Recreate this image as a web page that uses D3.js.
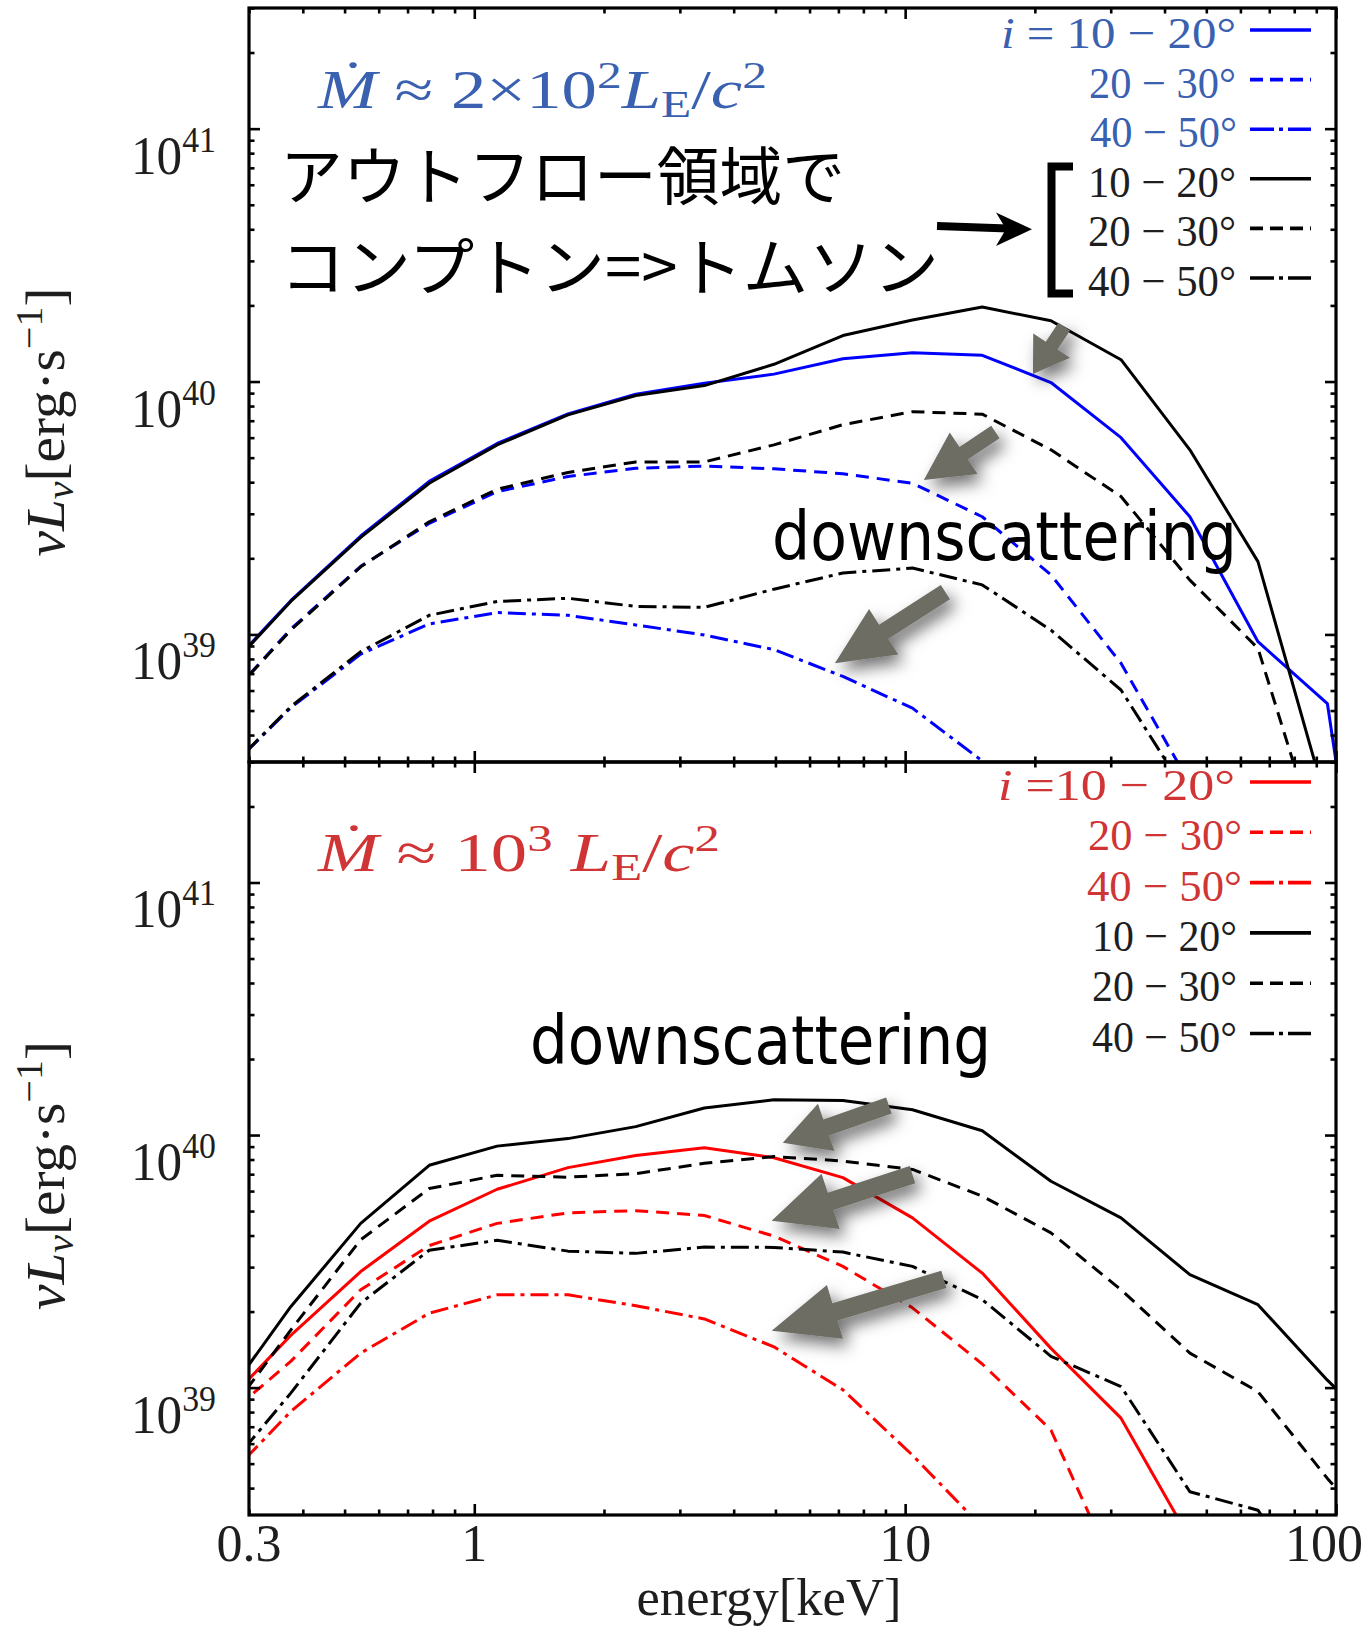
<!DOCTYPE html>
<html>
<head>
<meta charset="utf-8">
<script src="https://cdn.jsdelivr.net/npm/d3@7"></script>
<style>
  html, body { margin: 0; padding: 0; background: #fff; }
  svg { display: block; }
</style>
</head>
<body>
<svg id="chart" width="1362" height="1637"></svg>
<script>
// ---------------------------------------------------------------------------
// Spectral energy bins [keV]
const energies = [0.259, 0.375, 0.545, 0.786, 1.13, 1.65, 2.37, 3.42, 4.96, 7.17,
                  10.4, 15.1, 21.8, 31.7, 45.8, 65.9, 95.5, 138];

// νLν in units of 1e39 erg/s.  Upper panel: Mdot ~ 2x10^2 L_E/c^2
// Compton scattering in the outflow (coloured) and Thomson scattering (black)
const comptonA_10_20 = [0.692, 1.36, 2.45, 4.03, 5.69, 7.45, 8.91, 9.84, 10.7, 12.3, 13.0, 12.7, 9.91, 6.00, 2.92, 0.936, 0.533, 0.0079];
const comptonA_20_30 = [0.525, 1.05, 1.86, 2.75, 3.67, 4.21, 4.54, 4.63, 4.52, 4.32, 3.96, 2.92, 1.72, 0.769, 0.257];
const comptonA_40_50 = [0.275, 0.513, 0.836, 1.10, 1.22, 1.19, 1.09, 0.995, 0.871, 0.682, 0.511, 0.316, 0.195];
const thomsonA_10_20 = [0.684, 1.35, 2.42, 3.96, 5.62, 7.38, 8.81, 9.64, 11.7, 15.2, 17.5, 19.7, 17.4, 12.2, 5.37, 1.94, 0.209];
const thomsonA_20_30 = [0.525, 1.04, 1.85, 2.79, 3.75, 4.37, 4.81, 4.81, 5.62, 6.75, 7.60, 7.43, 5.37, 3.51, 1.64, 0.881, 0.115];
const thomsonA_40_50 = [0.275, 0.518, 0.855, 1.19, 1.35, 1.39, 1.29, 1.28, 1.51, 1.75, 1.83, 1.57, 1.04, 0.603, 0.224];

// Lower panel: Mdot ~ 10^3 L_E/c^2
const comptonB_10_20 = [0.832, 1.61, 2.88, 4.56, 6.10, 7.43, 8.30, 8.91, 8.13, 6.78, 4.70, 2.84, 1.43, 0.757, 0.251];
const comptonB_20_30 = [0.741, 1.27, 2.44, 3.65, 4.47, 4.92, 5.02, 4.80, 3.98, 3.02, 2.07, 1.24, 0.679, 0.166];
const comptonB_40_50 = [0.417, 0.804, 1.37, 1.97, 2.33, 2.33, 2.11, 1.87, 1.45, 0.98, 0.54, 0.28];
const thomsonB_10_20 = [0.871, 2.09, 4.47, 7.59, 9.04, 9.68, 10.8, 12.8, 13.8, 13.7, 12.6, 10.4, 6.56, 4.70, 2.80, 2.13, 1.07, 0.575];
const thomsonB_20_30 = [0.724, 1.69, 3.85, 6.14, 6.93, 6.81, 7.03, 7.73, 8.22, 7.89, 7.31, 5.73, 4.10, 2.44, 1.37, 0.964, 0.437, 0.214];
const thomsonB_40_50 = [0.447, 0.951, 2.16, 3.50, 3.83, 3.47, 3.40, 3.60, 3.59, 3.44, 3.02, 2.23, 1.33, 1.01, 0.387, 0.327, 0.126];

// Inclination ranges and axis ticks
const inclinationLabels = ["10 − 20°", "20 − 30°", "40 − 50°"];
const xTickValues = [0.3, 1, 10, 100];
const xTickLabels = ["0.3", "1", "10", "100"];
const yTickValues = [1e39, 1e40, 1e41];
const yTickExponents = ["39", "40", "41"];

// Annotation arrows (tail -> head) in data units: [keV, erg/s]
const arrowsA = [
  { from: [23.4, 1.65e40], to: [19.8, 1.07e40], shaft: 14, head: 44, headLen: 34 },
  { from: [16.2, 6.32e39], to: [11.05, 4.08e39], shaft: 15, head: 50, headLen: 48 },
  { from: [12.4, 1.47e39], to: [6.87, 7.7e38], shaft: 17, head: 54, headLen: 58 }
];
const arrowsB = [
  { from: [9.17, 1.31e40], to: [5.2, 9.33e39], shaft: 17, head: 50, headLen: 46 },
  { from: [10.4, 6.97e39], to: [4.9, 4.58e39], shaft: 18, head: 58, headLen: 62 },
  { from: [12.3, 2.68e39], to: [4.9, 1.68e39], shaft: 18, head: 56, headLen: 66 }
];

// ---------------------------------------------------------------------------
const W = 1362, H = 1637;
const left = 249, right = 1336;
const serif = "'Liberation Serif', 'DejaVu Serif', serif";
const blueText = "#3a60b0", redText = "#d03434", inkText = "#1e1e1e";
const dashes = { solid: null, dashed: "13,8", dashdot: "18,6,4,6" };
const legendDashes = { solid: null, dashed: "13,7", dashdot: "24,5,4,5" };

const svg = d3.select("#chart");
const defs = svg.append("defs");
const shadow = defs.append("filter").attr("id", "arrowShadow")
  .attr("x", "-60%").attr("y", "-60%").attr("width", "220%").attr("height", "220%");
shadow.append("feDropShadow").attr("dx", 6).attr("dy", 8).attr("stdDeviation", 8)
  .attr("flood-color", "#000").attr("flood-opacity", 0.55);

const x = d3.scaleLog().domain([0.3, 100]).range([left, right]);

// rich text built from tspans: parts {t, italic, shift(px up), scale}
function rich(parent, px, py, parts, opt) {
  const t = parent.append("text")
    .attr("x", px).attr("y", py)
    .attr("font-family", opt.family || serif)
    .attr("font-size", opt.size)
    .attr("fill", opt.fill || inkText)
    .attr("text-anchor", opt.anchor || "start");
  if (opt.transform) t.attr("transform", opt.transform);
  if (opt.width) t.attr("textLength", opt.width).attr("lengthAdjust", "spacingAndGlyphs");
  let shift = 0;
  parts.forEach(p => {
    const target = p.shift || 0;
    const s = t.append("tspan").text(p.t);
    if (target !== shift) s.attr("dy", shift - target);
    if (p.italic) s.attr("font-style", "italic");
    if (p.scale) s.attr("font-size", opt.size * p.scale);
    if (p.dx) s.attr("dx", p.dx);
    shift = target;
  });
  return t;
}

function logTicks(domain) {
  const [a, b] = domain, major = [], minor = [];
  for (let e = Math.floor(Math.log10(a)); e <= Math.ceil(Math.log10(b)); e++) {
    for (let m = 1; m < 10; m++) {
      const v = m * Math.pow(10, e);
      if (v < a * 0.999 || v > b * 1.001) continue;
      (m === 1 ? major : minor).push(v);
    }
  }
  return { major, minor };
}

function blockArrow(g, p0, p1, shaftW, headW, headL) {
  const [x0, y0] = p0, [x1, y1] = p1;
  const dx = x1 - x0, dy = y1 - y0, len = Math.hypot(dx, dy);
  const ux = dx / len, uy = dy / len, nx = -uy, ny = ux;
  const bx = x1 - ux * headL, by = y1 - uy * headL;
  const pts = [
    [x0 + nx * shaftW / 2, y0 + ny * shaftW / 2],
    [bx + nx * shaftW / 2, by + ny * shaftW / 2],
    [bx + nx * headW / 2, by + ny * headW / 2],
    [x1, y1],
    [bx - nx * headW / 2, by - ny * headW / 2],
    [bx - nx * shaftW / 2, by - ny * shaftW / 2],
    [x0 - nx * shaftW / 2, y0 - ny * shaftW / 2]
  ];
  g.append("polygon").attr("points", pts.map(p => p.join(",")).join(" "))
    .attr("fill", "#6d6d64").attr("filter", "url(#arrowShadow)");
}

const panels = [
  {
    id: "upper", top: 8, bottom: 762, color: "#0000ff", labelColor: blueText,
    series: [
      { values: comptonA_10_20, color: "#0000ff", style: "solid" },
      { values: comptonA_20_30, color: "#0000ff", style: "dashed" },
      { values: comptonA_40_50, color: "#0000ff", style: "dashdot" },
      { values: thomsonA_10_20, color: "#000", style: "solid" },
      { values: thomsonA_20_30, color: "#000", style: "dashed" },
      { values: thomsonA_40_50, color: "#000", style: "dashdot" }
    ],
    arrows: arrowsA,
    legendBase: 48, legendStep: 49.6,
    legendWidths: [235, 147, 147, 148, 148, 148],
    legendEnd: [1236, 1236, 1237, 1236, 1236, 1236],
    titleY: 108
  },
  {
    id: "lower", top: 762, bottom: 1515, color: "#ff0000", labelColor: redText,
    series: [
      { values: comptonB_10_20, color: "#ff0000", style: "solid" },
      { values: comptonB_20_30, color: "#ff0000", style: "dashed" },
      { values: comptonB_40_50, color: "#ff0000", style: "dashdot" },
      { values: thomsonB_10_20, color: "#000", style: "solid" },
      { values: thomsonB_20_30, color: "#000", style: "dashed" },
      { values: thomsonB_40_50, color: "#000", style: "dashdot" }
    ],
    arrows: arrowsB,
    legendBase: 800, legendStep: 50.3,
    legendWidths: [237, 154, 155, 145, 145, 145],
    legendEnd: [1235, 1242, 1242, 1237, 1237, 1237],
    titleY: 871
  }
];

panels.forEach((P, pi) => {
  const y = d3.scaleLog().domain([3.13e38, 3.0e41]).range([P.bottom, P.top]);
  const g = svg.append("g").attr("class", P.id);

  defs.append("clipPath").attr("id", "clip-" + P.id)
    .append("rect").attr("x", left).attr("y", P.top)
    .attr("width", right - left).attr("height", P.bottom - P.top);

  // spectra
  const line = d3.line()
    .x((d, i) => x(energies[i]))
    .y(d => y(d * 1e39));
  const curves = g.append("g").attr("clip-path", `url(#clip-${P.id})`);
  P.series.forEach(s => {
    curves.append("path").datum(s.values)
      .attr("d", line)
      .attr("fill", "none")
      .attr("stroke", s.color)
      .attr("stroke-width", 3)
      .attr("stroke-linejoin", "round")
      .attr("stroke-dasharray", dashes[s.style]);
  });

  // frame and ticks (inward on all four sides)
  const xt = logTicks(x.domain()), yt = logTicks(y.domain());
  const tickAxes = [
    [d3.axisBottom(x), `translate(0,${P.bottom})`, xt],
    [d3.axisTop(x), `translate(0,${P.top})`, xt],
    [d3.axisLeft(y), `translate(${left},0)`, yt],
    [d3.axisRight(y), `translate(${right},0)`, yt]
  ];
  tickAxes.forEach(([ax, tr, tk]) => {
    [[tk.major, 11], [tk.minor, 5.5]].forEach(([vals, len]) => {
      const a = g.append("g").attr("transform", tr)
        .call(ax.tickValues(vals).tickSize(-len).tickSizeOuter(0).tickFormat(""));
      a.select(".domain").remove();
      a.selectAll("line").attr("stroke", "#000").attr("stroke-width", 2.6);
    });
  });
  g.append("rect").attr("x", left).attr("y", P.top)
    .attr("width", right - left).attr("height", P.bottom - P.top)
    .attr("fill", "none").attr("stroke", "#000").attr("stroke-width", 3.2);

  // y tick labels 10^n
  yTickValues.forEach((v, i) => {
    rich(g, 216, y(v) + 45, [
      { t: "10" },
      { t: yTickExponents[i], shift: 22, scale: 0.66 }
    ], { size: 54, anchor: "end", width: 85, fill: inkText });
  });

  // y axis title
  const cy = (P.top + P.bottom) / 2 + 37;
  rich(g, 0, 0, [
    { t: "ν", italic: true },
    { t: "L", italic: true },
    { t: "ν", italic: true, shift: -9, scale: 0.7 },
    { t: "[erg·s", shift: 0 },
    { t: "−1", shift: 22, scale: 0.7 },
    { t: "]", shift: 0 }
  ], { size: 54, anchor: "middle", width: 269, transform: `translate(64,${cy}) rotate(-90)` });

  // legend
  const legendStyles = ["solid", "dashed", "dashdot"];
  for (let r = 0; r < 6; r++) {
    const base = P.legendBase + r * P.legendStep;
    const coloured = r < 3;
    const label = inclinationLabels[r % 3];
    const parts = (r === 0)
      ? [{ t: "i", italic: true }, { t: (pi === 0 ? " = " : " =") + label }]
      : [{ t: label }];
    rich(g, P.legendEnd[r], base, parts, {
      size: 45, anchor: "end", width: P.legendWidths[r],
      fill: coloured ? P.labelColor : inkText
    });
    g.append("line")
      .attr("x1", 1250).attr("x2", 1311)
      .attr("y1", base - 18).attr("y2", base - 18)
      .attr("stroke", coloured ? P.color : "#000")
      .attr("stroke-width", 3.6)
      .attr("stroke-dasharray", legendDashes[legendStyles[r % 3]]);
  }

  // grey "downscattering" arrows
  const arrowLayer = g.append("g");
  P.arrows.forEach(a => {
    blockArrow(arrowLayer,
      [x(a.from[0]), y(a.from[1])], [x(a.to[0]), y(a.to[1])],
      a.shaft, a.head, a.headLen);
  });
});

// accretion-rate titles
rich(svg, 318, panels[0].titleY, [
  { t: "Ṁ", italic: true },
  { t: " ≈ 2×10" },
  { t: "2", shift: 20, scale: 0.7 },
  { t: "L", italic: true, shift: 0 },
  { t: "E", shift: -9, scale: 0.7 },
  { t: "/", shift: 0 },
  { t: "c", italic: true },
  { t: "2", shift: 20, scale: 0.7 }
], { size: 54, width: 449, fill: blueText });

rich(svg, 318, panels[1].titleY, [
  { t: "Ṁ", italic: true },
  { t: " ≈ 10" },
  { t: "3", shift: 20, scale: 0.7 },
  { t: "  L", italic: true, shift: 0 },
  { t: "E", shift: -9, scale: 0.7 },
  { t: "/", shift: 0 },
  { t: "c", italic: true },
  { t: "2", shift: 20, scale: 0.7 }
], { size: 54, width: 402, fill: redText });

// Japanese annotation: Compton -> Thomson in the outflow region
const jp = "'Noto Sans CJK JP', 'Noto Sans CJK SC', sans-serif";
svg.append("text").attr("x", 280).attr("y", 199)
  .attr("font-family", jp).attr("font-size", 63).attr("fill", "#000")
  .attr("textLength", 565).attr("lengthAdjust", "spacingAndGlyphs")
  .text("アウトフロー領域で");
svg.append("text").attr("x", 280).attr("y", 290)
  .attr("font-family", jp).attr("font-size", 63).attr("fill", "#000")
  .attr("textLength", 659).attr("lengthAdjust", "spacingAndGlyphs")
  .text("コンプトン=>トムソン");

// black arrow and bracket pointing at the Thomson entries of the legend
svg.append("line").attr("x1", 937).attr("y1", 226).attr("x2", 1008).attr("y2", 228.6)
  .attr("stroke", "#000").attr("stroke-width", 8);
svg.append("polygon")
  .attr("points", "1032,229.3 996,212.5 1006,229 996,246")
  .attr("fill", "#000");
svg.append("path")
  .attr("d", "M1073,166.5 H1051.5 V293.5 H1073")
  .attr("fill", "none").attr("stroke", "#000").attr("stroke-width", 8)
  .attr("stroke-linejoin", "miter");

// "downscattering" labels
const sans = "'DejaVu Sans', Verdana, sans-serif";
svg.append("text").attr("x", 772).attr("y", 560)
  .attr("font-family", sans).attr("font-size", 68).attr("fill", "#000")
  .attr("textLength", 465).attr("lengthAdjust", "spacingAndGlyphs")
  .text("downscattering");
svg.append("text").attr("x", 530).attr("y", 1064)
  .attr("font-family", sans).attr("font-size", 68).attr("fill", "#000")
  .attr("textLength", 461).attr("lengthAdjust", "spacingAndGlyphs")
  .text("downscattering");

// x tick labels and title
xTickValues.forEach((v, i) => {
  const cx = Math.min(x(v), W - 38);
  svg.append("text").attr("x", cx).attr("y", 1561)
    .attr("font-family", serif).attr("font-size", 52).attr("fill", inkText)
    .attr("text-anchor", "middle").text(xTickLabels[i]);
});
svg.append("text").attr("x", 769).attr("y", 1615)
  .attr("font-family", serif).attr("font-size", 52).attr("fill", inkText)
  .attr("text-anchor", "middle")
  .attr("textLength", 265).attr("lengthAdjust", "spacingAndGlyphs")
  .text("energy[keV]");
</script>
</body>
</html>
